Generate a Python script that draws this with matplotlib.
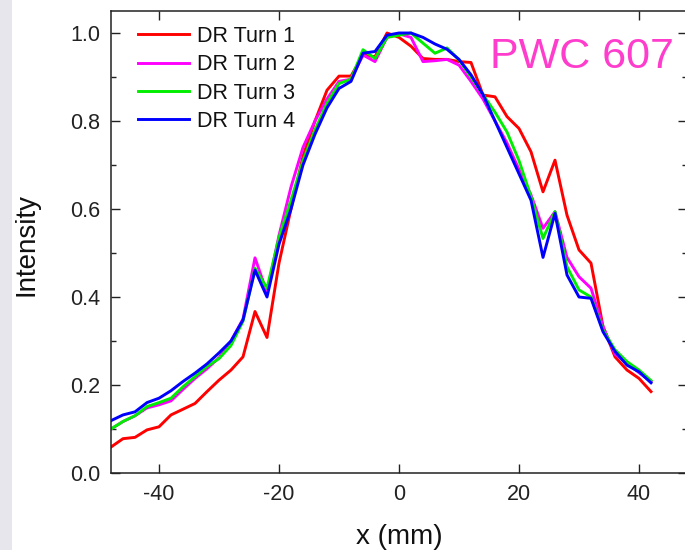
import matplotlib
matplotlib.use("Agg")
import matplotlib.pyplot as plt
from matplotlib.ticker import MultipleLocator
from matplotlib.patches import Rectangle

plt.rcParams['font.family'] = ['Liberation Sans', 'DejaVu Sans']
plt.rcParams['axes.unicode_minus'] = False

x_mm = [-48, -46, -44, -42, -40, -38, -36, -34, -32, -30, -28, -26, -24, -22, -20,
        -18, -16, -14, -12, -10, -8, -6, -4, -2, 0, 2, 4, 6, 8, 10, 12, 14, 16, 18,
        20, 22, 24, 26, 28, 30, 32, 34, 36, 38, 40, 42]

turn1 = [0.059, 0.078, 0.081, 0.098, 0.105, 0.132, 0.145, 0.158, 0.185, 0.211, 0.234, 0.264,
         0.367, 0.308, 0.477, 0.600, 0.720, 0.800, 0.870, 0.902, 0.902, 0.950, 0.946, 1.000,
         0.990, 0.970, 0.942, 0.940, 0.940, 0.935, 0.933, 0.859, 0.855, 0.810, 0.783, 0.730,
         0.639, 0.711, 0.586, 0.507, 0.477, 0.333, 0.264, 0.234, 0.215, 0.185]

turn2 = [0.100, 0.117, 0.130, 0.148, 0.155, 0.164, 0.190, 0.215, 0.237, 0.262, 0.300, 0.350,
         0.489, 0.410, 0.540, 0.650, 0.740, 0.800, 0.850, 0.890, 0.895, 0.950, 0.935, 0.990,
         0.998, 0.990, 0.935, 0.937, 0.940, 0.927, 0.890, 0.850, 0.800, 0.750, 0.690, 0.632,
         0.556, 0.594, 0.490, 0.446, 0.420, 0.333, 0.270, 0.250, 0.228, 0.208]

turn3 = [0.100, 0.117, 0.130, 0.151, 0.160, 0.170, 0.196, 0.219, 0.242, 0.260, 0.290, 0.345,
         0.465, 0.420, 0.535, 0.620, 0.710, 0.780, 0.840, 0.885, 0.895, 0.962, 0.942, 0.990,
         0.995, 1.000, 0.977, 0.954, 0.966, 0.939, 0.900, 0.860, 0.820, 0.775, 0.710, 0.628,
         0.533, 0.594, 0.469, 0.416, 0.400, 0.325, 0.280, 0.253, 0.234, 0.210]

turn4 = [0.119, 0.132, 0.139, 0.160, 0.170, 0.187, 0.208, 0.227, 0.248, 0.273, 0.300, 0.348,
         0.461, 0.400, 0.520, 0.600, 0.700, 0.770, 0.830, 0.874, 0.890, 0.954, 0.958, 0.995,
         1.000, 1.000, 0.990, 0.975, 0.963, 0.940, 0.905, 0.860, 0.800, 0.740, 0.680, 0.620,
         0.490, 0.590, 0.450, 0.400, 0.397, 0.321, 0.276, 0.245, 0.230, 0.205]

series = [("DR Turn 1", turn1, "#ff0000"),
          ("DR Turn 2", turn2, "#ff00ff"),
          ("DR Turn 3", turn3, "#00ee00"),
          ("DR Turn 4", turn4, "#0000ff")]

W, H = 685, 550
fig = plt.figure(figsize=(W / 100, H / 100), dpi=100)
fig.patches.append(Rectangle((0, 0), 12 / W, 1, transform=fig.transFigure,
                             facecolor="#e6e6ec", edgecolor="none", zorder=0))

ax = fig.add_axes([111 / W, 1 - 473 / H, (687 - 111) / W, (473 - 11) / H])
for label, ys, col in series:
    ax.plot(x_mm, ys, color=col, lw=2.1, label=label)

ax.set_xlim(-48, 48)
ax.set_ylim(0, 1.05)
ax.xaxis.set_major_locator(MultipleLocator(20))
ax.yaxis.set_major_locator(MultipleLocator(0.2))
ax.yaxis.set_minor_locator(MultipleLocator(0.1))
ax.yaxis.set_major_formatter(matplotlib.ticker.FormatStrFormatter('%.1f'))

spine_col = "#222222"
for s in ax.spines.values():
    s.set_linewidth(1.1)
    s.set_color(spine_col)
ax.tick_params(axis='both', which='major', direction='in', length=6.5, width=1.0,
               top=True, right=True, labelsize=15.5, colors=spine_col, pad=8)
ax.tick_params(axis='y', which='minor', direction='in', length=3.5, width=1.0,
               left=True, right=True, colors=spine_col)

fig.text(399 / W, 1 - 544 / H, "x (mm)", ha='center', va='baseline', fontsize=20,
         color="#111111")
fig.text(33 / W, 1 - 245 / H, "Intensity", ha='center', va='baseline', rotation=90,
         rotation_mode='anchor', fontsize=20, color="#111111")
fig.text(490 / W, 1 - 68 / H, "PWC 607", ha='left', va='baseline', fontsize=31,
         color="#ff3dcc")

leg = ax.legend(loc='upper left', bbox_to_anchor=((138 - 111) / 576, (473 - 26) / 462),
                frameon=False, fontsize=15.5, handlelength=2.37, handletextpad=0.37,
                labelspacing=0.34, borderpad=0, borderaxespad=0)
for t in leg.get_texts():
    t.set_color("#111111")

fig.savefig("out.png", dpi=100)
